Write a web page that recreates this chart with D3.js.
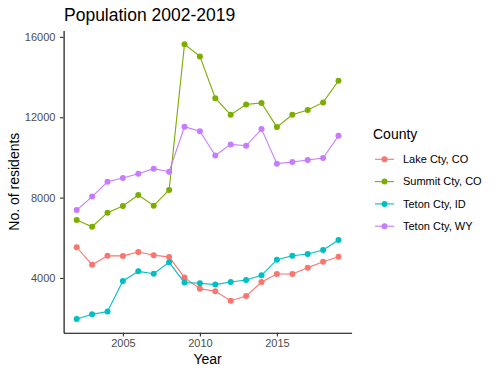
<!DOCTYPE html>
<html>
<head>
<meta charset="utf-8">
<script src="https://cdn.jsdelivr.net/npm/d3@7"></script>
<style>
  body { margin: 0; background: #fff; }
  text { font-family: "Liberation Sans", Arial, sans-serif; }
</style>
</head>
<body>
<script>
var width = 503,
    height = 375;

var years = d3.range(2002, 2020);
var counties = ["Lake Cty, CO", "Summit Cty, CO", "Teton Cty, ID", "Teton Cty, WY"];
var colors = ["#F8766D", "#7CAE00", "#00BFC4", "#C77CFF"];

var lake   = [5530, 4660, 5110, 5100, 5290, 5130, 5050, 4020, 3470, 3340, 2870, 3100, 3800, 4200, 4200, 4510, 4810, 5060];
var summit = [6890, 6550, 7250, 7580, 8130, 7600, 8380, 15630, 15030, 12950, 12120, 12640, 12710, 11510, 12120, 12360, 12740, 13820];
var tetonID = [1960, 2190, 2330, 3850, 4330, 4210, 4780, 3770, 3740, 3670, 3800, 3900, 4130, 4910, 5110, 5190, 5390, 5890];
var tetonWY = [7380, 8050, 8790, 8980, 9190, 9440, 9290, 11530, 11300, 10100, 10650, 10580, 11410, 9690, 9770, 9870, 9970, 11080];

var yTicks = [4000, 8000, 12000, 16000];
var xTicks = [2005, 2010, 2015];

var series = [lake, summit, tetonID, tetonWY].map(function(vals, i) {
  return { name: counties[i], color: colors[i],
           values: vals.map(function(v, j) { return { year: years[j], value: v }; }) };
});

var svg = d3.select("body").append("svg")
    .attr("width", width)
    .attr("height", height);

// ggplot-style 5% expansion
var xMin = d3.min(years), xMax = d3.max(years);
var xPad = (xMax - xMin) * 0.05;
var allVals = lake.concat(summit, tetonID, tetonWY);
var yMin = d3.min(allVals), yMax = d3.max(allVals);
var yPad = (yMax - yMin) * 0.05;

var x = d3.scaleLinear()
    .domain([xMin - xPad, xMax + xPad])
    .range([63.6, 351.6]);

var y = d3.scaleLinear()
    .domain([yMin - yPad, yMax + yPad])
    .range([332.7, 30.6]);

// axes
var yAxis = d3.axisLeft(y).tickValues(yTicks).tickFormat(d3.format("d")).tickSize(3.7).tickPadding(4.5).tickSizeOuter(0);
var xAxis = d3.axisBottom(x).tickValues(xTicks).tickFormat(d3.format("d")).tickSize(3.7).tickPadding(3).tickSizeOuter(0);

var gy = svg.append("g")
    .attr("transform", "translate(" + x.range()[0] + ",0)")
    .call(yAxis);
var gx = svg.append("g")
    .attr("transform", "translate(0," + y.range()[0] + ")")
    .call(xAxis);

[gx, gy].forEach(function(g) {
  g.select(".domain").attr("stroke", "#000").attr("stroke-width", 1.1);
  g.selectAll(".tick line").attr("stroke", "#333").attr("stroke-width", 1.1);
  g.selectAll(".tick text").attr("fill", "#4D4D4D").style("font-size", "11px")
    .style("font-family", "'Liberation Sans', Arial, sans-serif");
});

// lines and points
var line = d3.line()
    .x(function(d) { return x(d.year); })
    .y(function(d) { return y(d.value); });

var groups = svg.selectAll(".series")
    .data(series)
    .enter().append("g")
    .attr("class", "series");

groups.append("path")
    .attr("d", function(d) { return line(d.values); })
    .attr("fill", "none")
    .attr("stroke", function(d) { return d.color; })
    .attr("stroke-width", 1.1);

groups.selectAll("circle")
    .data(function(d) { return d.values.map(function(v) { return { year: v.year, value: v.value, color: d.color }; }); })
    .enter().append("circle")
    .attr("cx", function(d) { return x(d.year); })
    .attr("cy", function(d) { return y(d.value); })
    .attr("r", 3)
    .attr("fill", function(d) { return d.color; });

// titles
svg.append("text")
    .attr("x", 64)
    .attr("y", 21)
    .style("font-size", "17.5px")
    .text("Population 2002-2019");

svg.append("text")
    .attr("transform", "translate(19," + ((y.range()[0] + y.range()[1]) / 2) + ") rotate(-90)")
    .attr("text-anchor", "middle")
    .style("font-size", "14px")
    .text("No. of residents");

svg.append("text")
    .attr("x", (x.range()[0] + x.range()[1]) / 2)
    .attr("y", 364)
    .attr("text-anchor", "middle")
    .style("font-size", "14px")
    .text("Year");

// legend
var legend = svg.append("g").attr("transform", "translate(373,0)");
legend.append("text")
    .attr("x", 0)
    .attr("y", 139)
    .style("font-size", "14px")
    .text("County");

var items = legend.selectAll(".item")
    .data(series)
    .enter().append("g")
    .attr("class", "item")
    .attr("transform", function(d, i) { return "translate(0," + (159.3 + i * 22.3) + ")"; });

items.append("line")
    .attr("x1", 2).attr("x2", 21)
    .attr("stroke", function(d) { return d.color; })
    .attr("stroke-width", 1.1);
items.append("circle")
    .attr("cx", 11.5).attr("r", 3)
    .attr("fill", function(d) { return d.color; });
items.append("text")
    .attr("x", 30)
    .attr("dy", "0.35em")
    .style("font-size", "11px")
    .attr("fill", "#000")
    .text(function(d) { return d.name; });
</script>
</body>
</html>
